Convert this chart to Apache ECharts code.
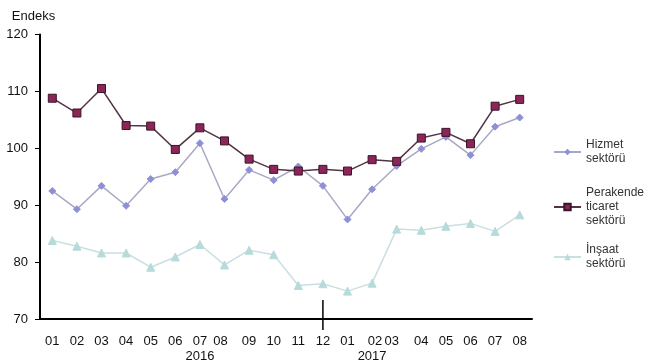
<!DOCTYPE html>
<html><head><meta charset="utf-8">
<script src="https://cdn.jsdelivr.net/npm/echarts@6/dist/echarts.min.js"></script>
<style>html,body{margin:0;padding:0;background:#fff}#c{width:650px;height:360px}</style>
</head><body><div id="c"></div>
<script>
const months = ['01','02','03','04','05','06','07','08','09','10','11','12','01','02','03','04','05','06','07','08'];
const yearLabels = {6:'2016', 13:'2017'};
const hizmet = [92.5,89.3,93.4,89.9,94.6,95.8,100.9,91.1,96.2,94.4,96.8,93.4,87.5,92.8,96.9,99.9,102.0,98.8,103.8,105.4];
const perakende = [108.8,106.2,110.5,104.0,103.9,99.8,103.6,101.3,98.1,96.3,96.0,96.3,96.0,98.0,97.7,101.8,102.8,100.8,107.4,108.6];
const insaat = [83.8,82.8,81.6,81.6,79.1,80.9,83.1,79.5,82.1,81.3,75.9,76.2,74.9,76.3,85.8,85.6,86.3,86.8,85.4,88.3];
const yTicks = [70, 80, 90, 100, 110, 120];
const names = ['Hizmet sektörü','Perakende ticaret sektörü','İnşaat sektörü'];

const cats = months.map((m,i)=> i + '|' + m);
const font = 'Liberation Sans, Arial, sans-serif';
const chart = echarts.init(document.getElementById('c'));
function leg(name, lines, top) {
  return {
    data:[name], top: top, left: 553, padding: 0, orient:'vertical',
    itemWidth: 27, itemHeight: 8, itemGap: 0,
    formatter: () => lines.join('\n'),
    textStyle: {fontFamily: font, fontSize: 12, color:'#333', lineHeight: 14, padding:[(lines.length-1)*14,0,0,0]}
  };
}
const shiftStyle = {fontFamily:font, fontSize:13, color:'#111', lineHeight:15};
chart.setOption({
  animation:false,
  grid:{left:40, right:118, top:34.5, bottom:41, containLabel:false, outerBoundsMode:'none'},
  legend:[
    leg(names[0], ['Hizmet','sektörü'], 131),
    leg(names[1], ['Perakende','ticaret','sektörü'], 172),
    leg(names[2], ['İnşaat','sektörü'], 236)
  ],
  xAxis:{type:'category', data:cats, boundaryGap:true,
    axisLine:{lineStyle:{color:'#000', width:2}},
    axisTick:{alignWithLabel:true, length:5, lineStyle:{color:'#000'}},
    axisLabel:{interval:0, margin:15, fontFamily:font, fontSize:13, color:'#111', lineHeight:15,
      rich:{
        l:Object.assign({padding:[0,0,0,6]}, shiftStyle),
        r8:Object.assign({padding:[0,8,0,0]}, shiftStyle),
        r10:Object.assign({padding:[0,10,0,0]}, shiftStyle)
      },
      formatter:(v)=>{
        const i=+v.split('|')[0]; const m=v.split('|')[1];
        let t = m;
        if (i===7) t='{r8|'+m+'}';
        if (i===13) t='{l|'+m+'}';
        if (i===14) t='{r10|'+m+'}';
        return yearLabels[i]? t+'\n'+yearLabels[i] : t;}}
  },
  yAxis:{type:'value', min:70, max:120, interval:10,
    name:'Endeks', nameLocation:'end', nameGap:12,
    nameTextStyle:{fontFamily:font, fontSize:13, color:'#111', align:'center', padding:[0,13,0,0]},
    splitLine:{show:false},
    axisLine:{show:true, lineStyle:{color:'#000', width:2}},
    axisTick:{show:true, length:5, lineStyle:{color:'#000'}},
    axisLabel:{margin:12, fontFamily:font, fontSize:13, color:'#111',
      formatter:(v)=> yTicks.includes(v) ? String(v) : ''}
  },
  series:[
    {name:names[0], type:'line', data:hizmet, symbol:'diamond', symbolSize:7,
      lineStyle:{color:'#a9a8c4', width:1.5}, itemStyle:{color:'#8f8fd6', borderColor:'#8f8fd6'}},
    {name:names[1], type:'line', data:perakende, symbol:'rect', symbolSize:8,
      lineStyle:{color:'#523545', width:1.5}, itemStyle:{color:'#8c2558', borderColor:'#3a1428', borderWidth:1}},
    {name:names[2], type:'line', data:insaat, symbol:'triangle', symbolSize:8,
      lineStyle:{color:'#c9dfe2', width:1.5}, itemStyle:{color:'#b7dada', borderColor:'#b7dada'}}
  ]
});
const x12 = chart.convertToPixel({xAxisIndex:0}, cats[11]);
const yAxisPx = chart.convertToPixel({yAxisIndex:0}, 70);
chart.setOption({graphic:[{type:'line', shape:{x1:x12, y1:yAxisPx-19, x2:x12, y2:yAxisPx+11}, style:{stroke:'#000', lineWidth:1.5}}]});
</script></body></html>
